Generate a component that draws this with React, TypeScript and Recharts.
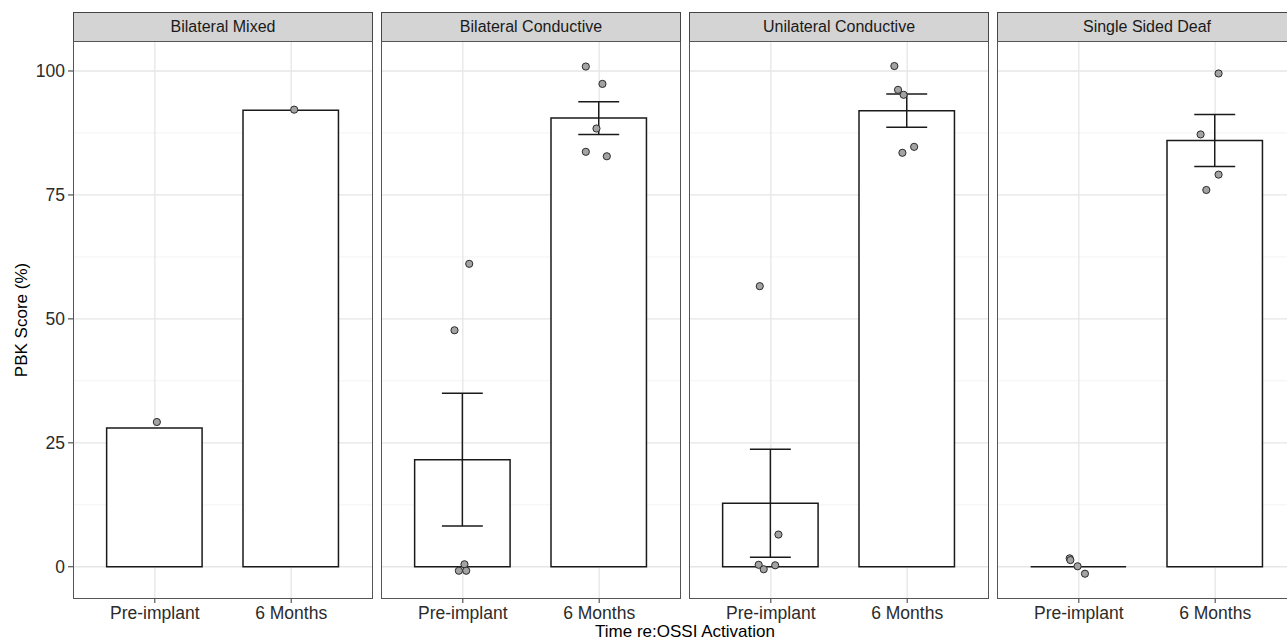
import React from 'react';
import { ComposedChart, Bar, Scatter, XAxis, YAxis, CartesianGrid, ErrorBar } from 'recharts';

const facets = ['Bilateral Mixed', 'Bilateral Conductive', 'Unilateral Conductive', 'Single Sided Deaf'];
const timepoints = ['Pre-implant', '6 Months'];
const yTicks = [0, 25, 50, 75, 100];
const yMinor = [12.5, 37.5, 62.5, 87.5];

// mean PBK score per facet: [pre-implant, 6 months]
const means = [
  [28.0, 92.1],
  [21.6, 90.5],
  [12.8, 92.0],
  [0, 86.0],
];
// standard error per facet
const stdErr = [
  [0, 0],
  [13.4, 3.3],
  [10.9, 3.35],
  [0, 5.25],
];

// individual scores: [timepoint position, horizontal jitter, score]
const pointsBM = [[1, 0.015, 29.2], [2, 0.022, 92.2]];
const pointsBC = [
  [1, 0.047, 61.1], [1, -0.061, 47.7], [1, 0.012, 0.5], [1, -0.029, -0.8], [1, 0.025, -0.8],
  [2, -0.098, 100.9], [2, 0.024, 97.4], [2, -0.02, 88.4], [2, -0.098, 83.7], [2, 0.056, 82.8],
];
const pointsUC = [
  [1, -0.081, 56.6], [1, 0.056, 6.5], [1, -0.089, 0.4], [1, -0.052, -0.5], [1, 0.032, 0.3],
  [2, -0.094, 101.0], [2, -0.067, 96.2], [2, -0.026, 95.2], [2, -0.035, 83.5], [2, 0.051, 84.7],
];
const pointsSSD = [
  [1, -0.067, 1.7], [1, -0.062, 1.35], [1, -0.009, 0.1], [1, 0.045, -1.4],
  [2, 0.025, 99.5], [2, -0.107, 87.2], [2, 0.025, 79.1], [2, -0.065, 76.0],
];
const facetPoints = [pointsBM, pointsBC, pointsUC, pointsSSD];

const PLOT_W = 300;
const PLOT_H = 558;
const PLOT_TOP = 41;
const PANEL_X0 = 73;
const PANEL_STEP = 308;
const AXIS_W = 73;
const XAXIS_H = 40;
const UNIT = PLOT_W / 2.2;
const Y_DOMAIN = [-6.5, 106.05];
const FONT = '"Liberation Sans", Arial, sans-serif';

const BarShape = (p: any) => {
  const { x, y, width, height } = p;
  return (
    <path
      d={`M${x},${y}h${width}v${height}h${-width}Z`}
      fill="#ffffff"
      stroke="#1a1a1a"
      strokeWidth={1.5}
    />
  );
};

const Dot = (p: any) => (
  <circle cx={p.cx} cy={p.cy} r={3.6} fill="#a3a3a3" stroke="#2a2a2a" strokeWidth={1} />
);

function Facet({ index }: { index: number }) {
  const first = index === 0;
  const rows = timepoints.map((t, i) => ({ time: t, mean: means[index][i], se: stdErr[index][i] }));
  const pts = facetPoints[index].map(([t, dx, v]) => ({ x: t + dx, v }));
  const left = PANEL_X0 + PANEL_STEP * index - (first ? AXIS_W : 0);

  return (
    <div style={{ position: 'absolute', left, top: PLOT_TOP }}>
      <ComposedChart
        width={PLOT_W + (first ? AXIS_W : 0)}
        height={PLOT_H + XAXIS_H}
        data={rows}
        margin={{ top: 0, right: 0, bottom: 0, left: 0 }}
      >
        <CartesianGrid
          xAxisId="num"
          horizontalValues={yMinor}
          vertical={false}
          stroke="#f0f0f0"
          strokeWidth={0.8}
        />
        <CartesianGrid
          xAxisId="num"
          horizontalValues={yTicks}
          verticalValues={[1, 2]}
          stroke="#e6e6e6"
          strokeWidth={1.3}
        />
        <XAxis
          xAxisId="cat"
          dataKey="time"
          type="category"
          padding={{ left: UNIT * 0.1, right: UNIT * 0.1 }}
          height={XAXIS_H}
          axisLine={false}
          tickLine={{ stroke: '#333' }}
          tickSize={4}
          tickMargin={4}
          tick={{ fontSize: 17.5, fill: '#2b2b2b', fontFamily: FONT }}
          interval={0}
        />
        <XAxis xAxisId="num" dataKey="x" type="number" domain={[0.4, 2.6]} hide />
        {first ? (
          <YAxis
            type="number"
            domain={Y_DOMAIN}
            ticks={yTicks}
            allowDataOverflow
            width={AXIS_W}
            axisLine={false}
            tickLine={{ stroke: '#333' }}
            tickSize={5}
            tickMargin={3}
            tick={{ fontSize: 17.5, fill: '#2b2b2b', fontFamily: FONT }}
          />
        ) : (
          <YAxis type="number" domain={Y_DOMAIN} ticks={yTicks} allowDataOverflow hide />
        )}
        <Bar
          xAxisId="cat"
          dataKey="mean"
          barSize={UNIT * 0.7}
          shape={BarShape}
          isAnimationActive={false}
        >
          <ErrorBar dataKey="se" direction="y" width={UNIT * 0.15} stroke="#1a1a1a" strokeWidth={1.5} />
        </Bar>
        <Scatter
          xAxisId="num"
          data={pts}
          dataKey="v"
          shape={Dot}
          isAnimationActive={false}
        />
      </ComposedChart>
    </div>
  );
}

export default function App() {
  return (
    <div
      style={{
        position: 'absolute',
        left: 0,
        top: 0,
        width: 1287,
        height: 642,
        overflow: 'hidden',
        background: '#fff',
        fontFamily: FONT,
      }}
    >
      {facets.map((f, i) => (
        <Facet key={f} index={i} />
      ))}
      {facets.map((f, i) => (
        <React.Fragment key={'frame-' + f}>
          <div
            style={{
              position: 'absolute',
              left: PANEL_X0 + PANEL_STEP * i,
              top: 12,
              width: PLOT_W,
              height: 30,
              boxSizing: 'border-box',
              background: '#d4d4d4',
              border: '1px solid #444',
              color: '#1a1a1a',
              fontSize: 16,
              lineHeight: '28px',
              textAlign: 'center',
            }}
          >
            {f}
          </div>
          <div
            style={{
              position: 'absolute',
              left: PANEL_X0 + PANEL_STEP * i,
              top: PLOT_TOP,
              width: PLOT_W,
              height: PLOT_H,
              boxSizing: 'border-box',
              border: '1px solid #555',
              pointerEvents: 'none',
            }}
          />
        </React.Fragment>
      ))}
      <svg
        width={1287}
        height={642}
        style={{ position: 'absolute', left: 0, top: 0, pointerEvents: 'none' }}
      >
        <text
          x={21}
          y={320}
          transform="rotate(-90 21 320)"
          textAnchor="middle"
          dominantBaseline="central"
          fontSize={17}
          fill="#000"
          fontFamily={FONT}
        >
          PBK Score (%)
        </text>
        <text x={685} y={637} textAnchor="middle" fontSize={17} fill="#000" fontFamily={FONT}>
          Time re:OSSI Activation
        </text>
      </svg>
    </div>
  );
}
